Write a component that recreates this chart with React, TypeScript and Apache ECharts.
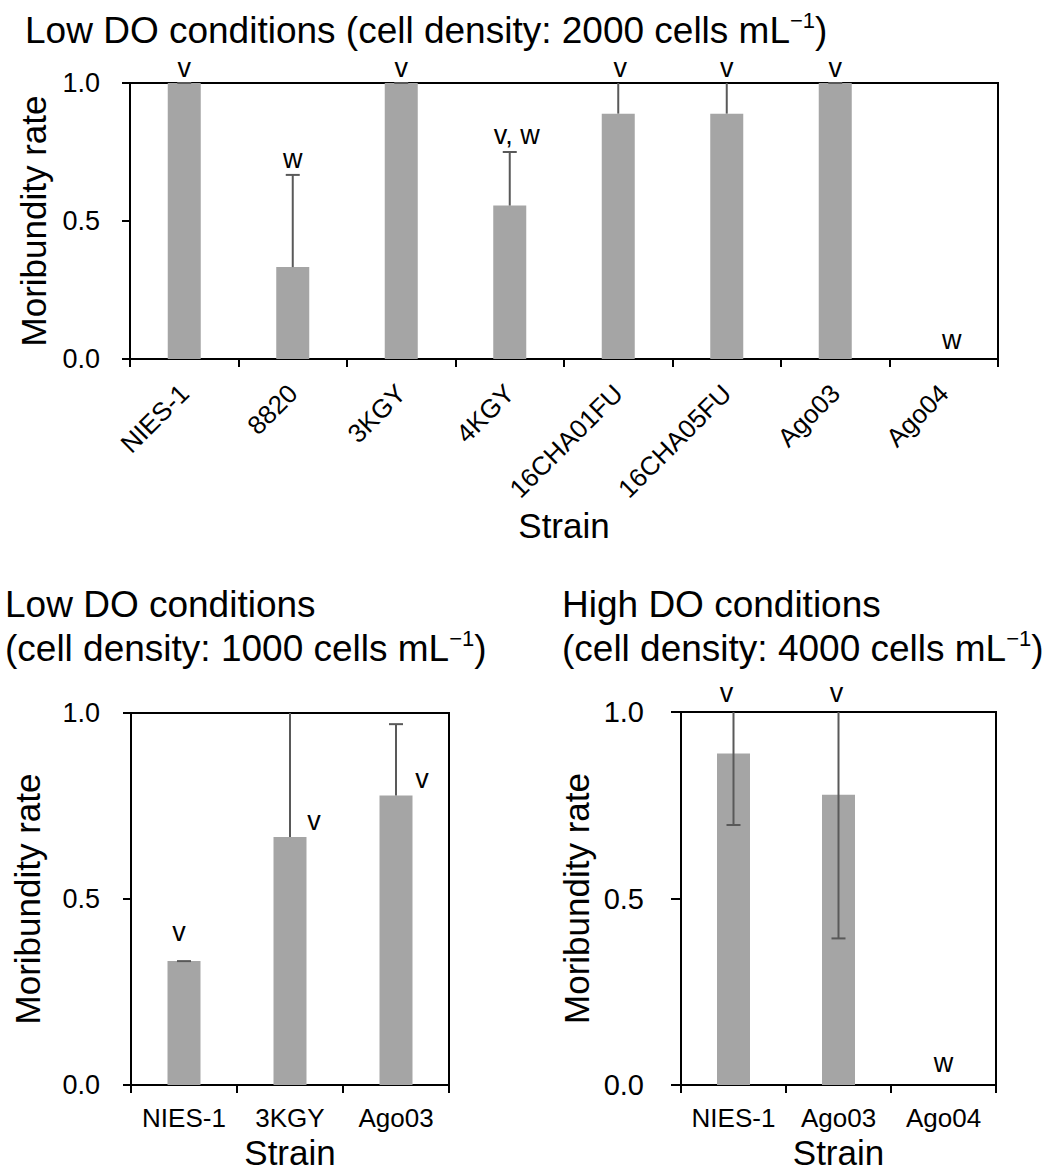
import React, { useEffect, useRef } from 'react';
import * as echarts from 'echarts';

const FONT = '"Liberation Sans", Arial, Helvetica, sans-serif';

// ---- Top panel: Low DO, 2000 cells/mL ----
const topCategories = ['NIES-1', '8820', '3KGY', '4KGY', '16CHA01FU', '16CHA05FU', 'Ago03', 'Ago04'];
const topValues = [1.0, 0.333, 1.0, 0.556, 0.889, 0.889, 1.0, 0];
const topErrPlus = [0, 0.334, 0, 0.194, 0.192, 0.192, 0, null];
const topErrMinus = [null, null, null, null, null, null, null, null];
const topLetters = ['v', 'w', 'v', 'v, w', 'v', 'v', 'v', 'w'];
const topLetterY = [1.054, 0.725, 1.054, 0.81, 1.054, 1.054, 1.054, 0.069];

// ---- Bottom-left panel: Low DO, 1000 cells/mL ----
const lowCategories = ['NIES-1', '3KGY', 'Ago03'];
const lowValues = [0.333, 0.667, 0.778];
const lowErrPlus = [0, 0.385, 0.192];
const lowErrMinus = [null, null, null];
const lowLetters = ['v', 'v', 'v'];
const lowLetterY = [0.412, 0.71, 0.823];

// ---- Bottom-right panel: High DO, 4000 cells/mL ----
const highCategories = ['NIES-1', 'Ago03', 'Ago04'];
const highValues = [0.889, 0.778, 0];
const highErrPlus = [0.192, 0.385, null];
const highErrMinus = [0.192, 0.385, null];
const highLetters = ['v', 'v', 'w'];
const highLetterY = [1.05, 1.05, 0.06];

const Y_MIN = 0;
const Y_MAX = 1;
const Y_INTERVAL = 0.5;

// label horizontal nudges (px)
const topLetterDx = [0, 0, 0, 7, 2, 0, 0, 8];
const lowLetterDx = [-5, 24, 26];
const highLetterDx = [-7, -2, 0];

const BAR_COLOR = '#a5a5a5';
const ERR_COLOR = '#595959';

function errorSeries(gridIdx: number, values: number[], plus: (number | null)[], minus: (number | null)[]) {
  const data: number[][] = [];
  values.forEach((v, i) => {
    if (plus[i] === null || plus[i] === undefined) return;
    data.push([i, v, plus[i] as number, minus[i] === null || minus[i] === undefined ? -1 : (minus[i] as number)]);
  });
  return {
    type: 'custom',
    xAxisIndex: gridIdx,
    yAxisIndex: gridIdx,
    z: 5,
    data,
    renderItem: (params: any, api: any) => {
      const i = api.value(0);
      const v = api.value(1);
      const p = api.value(2);
      const m = api.value(3);
      const hiRaw = v + p;
      const hi = Math.min(hiRaw, Y_MAX);
      const hasMinus = m >= 0;
      const lo = hasMinus ? Math.max(v - m, Y_MIN) : v;
      const pHi = api.coord([i, hi]);
      const pLo = api.coord([i, lo]);
      const style = { stroke: ERR_COLOR, lineWidth: 2 };
      const cap = 7;
      const children: any[] = [
        { type: 'line', shape: { x1: pHi[0], y1: pHi[1], x2: pLo[0], y2: pLo[1] }, style },
      ];
      if (hiRaw <= Y_MAX + 1e-9) {
        children.push({ type: 'line', shape: { x1: pHi[0] - cap, y1: pHi[1], x2: pHi[0] + cap, y2: pHi[1] }, style });
      }
      if (hasMinus && v - m >= Y_MIN) {
        children.push({ type: 'line', shape: { x1: pLo[0] - cap, y1: pLo[1], x2: pLo[0] + cap, y2: pLo[1] }, style });
      }
      return { type: 'group', children };
    },
  };
}

function letterSeries(gridIdx: number, letters: string[], ys: number[], dxs: number[], fontSize: number) {
  return {
    type: 'custom',
    xAxisIndex: gridIdx,
    yAxisIndex: gridIdx,
    z: 6,
    clip: false,
    data: ys.map((y, i) => [i, y]),
    renderItem: (params: any, api: any) => {
      const idx = params.dataIndex;
      const pt = api.coord([api.value(0), api.value(1)]);
      return {
        type: 'text',
        x: pt[0] + dxs[idx],
        y: pt[1],
        style: {
          text: letters[idx],
          fill: '#000',
          fontSize,
          fontFamily: FONT,
          align: 'center',
          verticalAlign: 'middle',
        },
      };
    },
  };
}

function yAxis(gridIdx: number, labelSize: number, labelMargin: number, nameGap: number, tickLen: number) {
  return {
    type: 'value',
    gridIndex: gridIdx,
    min: Y_MIN,
    max: Y_MAX,
    interval: Y_INTERVAL,
    name: 'Moribundity rate',
    nameLocation: 'middle',
    nameGap,
    nameTextStyle: { fontSize: 35, color: '#000', fontFamily: FONT, lineHeight: 36 },
    axisLine: { show: true, lineStyle: { color: '#000', width: 2 } },
    axisTick: { show: true, length: tickLen, lineStyle: { color: '#000', width: 2 } },
    splitLine: { show: false },
    axisLabel: {
      fontSize: labelSize,
      color: '#000',
      fontFamily: FONT,
      margin: labelMargin,
      formatter: (v: number) => v.toFixed(1),
    },
  };
}

function xAxis(gridIdx: number, cats: string[], rotate: number, labelMargin: number, nameGap: number) {
  return {
    type: 'category',
    gridIndex: gridIdx,
    data: cats,
    boundaryGap: true,
    name: 'Strain',
    nameLocation: 'middle',
    nameGap,
    nameTextStyle: { fontSize: 35, color: '#000', fontFamily: FONT, lineHeight: 35 },
    axisLine: { show: true, lineStyle: { color: '#000', width: 2 } },
    axisTick: { show: true, length: 8, alignWithLabel: false, interval: 0, lineStyle: { color: '#000', width: 2 } },
    splitLine: { show: false },
    axisLabel: {
      interval: 0,
      rotate,
      fontSize: 26,
      lineHeight: 26,
      color: '#000',
      fontFamily: FONT,
      margin: labelMargin,
    },
  };
}

function barSeries(gridIdx: number, values: number[]) {
  return {
    type: 'bar',
    xAxisIndex: gridIdx,
    yAxisIndex: gridIdx,
    data: values,
    barWidth: 33,
    itemStyle: { color: BAR_COLOR },
    z: 2,
  };
}

function titleText(x: number, y: number, main: string, sup?: string, tail?: string) {
  const text = sup ? `{n|${main}}{s|${sup}}{n|${tail ?? ''}}` : `{n|${main}}`;
  return {
    type: 'text',
    x,
    y,
    style: {
      text,
      align: 'left',
      verticalAlign: 'middle',
      fill: '#000',
      rich: {
        n: { fontSize: 37, fontFamily: FONT, fill: '#000', lineHeight: 42 },
        s: { fontSize: 22, fontFamily: FONT, fill: '#000', verticalAlign: 'top', lineHeight: 28 },
      },
    },
  };
}

export default function App() {
  const ref = useRef<HTMLDivElement>(null);
  useEffect(() => {
    if (!ref.current) return;
    const chart = echarts.init(ref.current, undefined, { renderer: 'svg' });
    const gridStyle = { show: true, borderColor: '#000', borderWidth: 2, backgroundColor: 'transparent', containLabel: false };
    chart.setOption({
      animation: false,
      backgroundColor: '#fff',
      grid: [
        { ...gridStyle, left: 130, top: 83, width: 868, height: 276 },
        { ...gridStyle, left: 131, top: 713, width: 318, height: 376 },
        { ...gridStyle, left: 681, top: 712, width: 315, height: 377 },
      ],
      xAxis: [
        xAxis(0, topCategories, 45, 30, 149),
        xAxis(1, lowCategories, 0, 20, 50),
        xAxis(2, highCategories, 0, 20, 50),
      ],
      yAxis: [
        yAxis(0, 27, 30, 78, 8),
        yAxis(1, 27, 31, 86, 8),
        yAxis(2, 29, 37, 87, 10),
      ],
      series: [
        barSeries(0, topValues),
        barSeries(1, lowValues),
        barSeries(2, highValues),
        errorSeries(0, topValues, topErrPlus, topErrMinus),
        errorSeries(1, lowValues, lowErrPlus, lowErrMinus),
        errorSeries(2, highValues, highErrPlus, highErrMinus),
        letterSeries(0, topLetters, topLetterY, topLetterDx, 27),
        letterSeries(1, lowLetters, lowLetterY, lowLetterDx, 27),
        letterSeries(2, highLetters, highLetterY, highLetterDx, 27),
      ],
      graphic: [
        titleText(25, 30, 'Low DO conditions (cell density: 2000 cells mL', '\u22121', ')'),
        titleText(5, 604, 'Low DO conditions'),
        titleText(5, 648, '(cell density: 1000 cells mL', '\u22121', ')'),
        titleText(562, 604, 'High DO conditions'),
        titleText(562, 648, '(cell density: 4000 cells mL', '\u22121', ')'),
      ],
    });
    return () => chart.dispose();
  }, []);
  return (
    <div
      ref={ref}
      style={{ position: 'absolute', left: 0, top: 0, width: 1057, height: 1171 }}
    />
  );
}
